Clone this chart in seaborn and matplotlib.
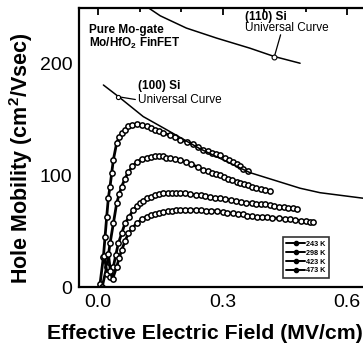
import numpy as np
import pandas as pd
import matplotlib
matplotlib.use("Agg")
import matplotlib.pyplot as plt
from matplotlib.lines import Line2D
import seaborn as sns

# ---- data ----
x_243 = [0.005, 0.013, 0.017, 0.021, 0.025, 0.029, 0.033, 0.037, 0.045, 0.051, 0.057, 0.065, 0.073,
         0.083, 0.093, 0.105, 0.117, 0.127, 0.137, 0.147, 0.157, 0.173, 0.185, 0.198, 0.215, 0.23,
         0.242, 0.254, 0.265, 0.275, 0.285, 0.295, 0.305, 0.315, 0.325, 0.334, 0.343, 0.35, 0.362]
y_243 = [3, 27, 45, 63, 80, 90, 102, 114, 129, 134, 138, 141, 144,
         145.5, 146, 145, 144, 142.5, 141, 139.5, 138, 136, 134, 132, 130, 128,
         125.5, 123, 121.5, 120, 119, 118, 116, 114, 112, 110, 108, 106, 104]

x_298 = [0.01, 0.021, 0.029, 0.037, 0.045, 0.051, 0.057, 0.065, 0.073, 0.083, 0.093, 0.105, 0.117,
         0.127, 0.137, 0.147, 0.157, 0.165, 0.173, 0.185, 0.198, 0.212, 0.225, 0.24, 0.254, 0.265,
         0.275, 0.285, 0.294, 0.304, 0.314, 0.324, 0.334, 0.343, 0.352, 0.361, 0.37, 0.381,
         0.392, 0.403, 0.414]
y_298 = [0, 18, 39, 57, 75, 83, 90, 97, 103, 108, 112, 114.5, 116,
         116.5, 117, 117, 117, 116, 115.5, 115, 114, 112, 110, 107.5, 105, 103.5,
         102.5, 101, 100, 98.5, 97, 96, 94.5, 93, 92, 91, 90, 89,
         88, 87, 86]

x_423 = [0.015, 0.022, 0.028, 0.037, 0.043, 0.049, 0.057, 0.065, 0.075, 0.085, 0.093, 0.1, 0.108,
         0.117, 0.127, 0.137, 0.147, 0.157, 0.168, 0.178, 0.188, 0.198, 0.21, 0.222, 0.235, 0.247,
         0.258, 0.27, 0.282, 0.294, 0.307, 0.32, 0.332, 0.345, 0.357, 0.37, 0.381, 0.392, 0.403,
         0.414, 0.425, 0.435, 0.447, 0.458, 0.469, 0.479]
y_423 = [28, 12, 9, 18, 29, 39, 48, 57, 63, 69, 72.5, 75, 77.5,
         79.5, 81, 82, 83, 84, 84.5, 84.5, 84.5, 84.5, 84, 83, 82.5, 82,
         81.5, 81, 80, 79.5, 78.5, 78, 77, 76.5, 75.5, 75, 74.5, 74, 74,
         73.5, 73, 72, 71.5, 71, 70.5, 70]

x_473 = [0.025, 0.030, 0.035, 0.045, 0.051, 0.057, 0.065, 0.073, 0.083, 0.093, 0.105, 0.117,
         0.127, 0.137, 0.147, 0.157, 0.168, 0.178, 0.188, 0.198, 0.21, 0.222, 0.235, 0.247, 0.26,
         0.273, 0.286, 0.30, 0.312, 0.325, 0.338, 0.35, 0.36, 0.37, 0.383, 0.395, 0.408, 0.42,
         0.435, 0.45, 0.462, 0.475, 0.488, 0.5, 0.51, 0.518]
y_473 = [30, 14, 7, 18, 26, 33, 41, 48, 53, 57, 60.5, 63,
         64.5, 65.5, 66.5, 67.5, 68, 68.5, 69, 69, 69, 69, 69, 69, 68.5,
         68.5, 68, 67, 66.5, 66, 65.5, 65, 64, 63.5, 63, 63, 62.5, 62,
         61.5, 61, 60.5, 60, 59.5, 59, 58.5, 58.5]

x_u100 = [0.013, 0.049, 0.109, 0.165, 0.245, 0.366, 0.487, 0.535, 0.64]
y_u100 = [181, 170.7, 152.7, 141, 124, 102.5, 88.5, 84.5, 79.5]

x_u110 = [0.11, 0.15, 0.213, 0.286, 0.366, 0.425, 0.487]
y_u110 = [253, 243, 232, 223, 214, 206.5, 200.5]

series_labels = ["243 K", "298 K", "423 K", "473 K"]
series_x = [x_243, x_298, x_423, x_473]
series_y = [y_243, y_298, y_423, y_473]

x_ticks = [0.0, 0.3, 0.6]
x_tick_labels = ["0.0", "0.3", "0.6"]
y_ticks = [0, 100, 200]
y_tick_labels = ["0", "100", "200"]

# ---- figure ----
sns.set_style("white")
plt.rcParams["font.family"] = ["Liberation Sans", "DejaVu Sans"]
plt.rcParams["mathtext.fontset"] = "custom"
plt.rcParams["mathtext.rm"] = "Liberation Sans"
plt.rcParams["mathtext.bf"] = "Liberation Sans:bold"
plt.rcParams["text.color"] = "black"
plt.rcParams["axes.labelcolor"] = "black"
plt.rcParams["xtick.color"] = "black"
plt.rcParams["ytick.color"] = "black"

fig = plt.figure(figsize=(3.63, 3.47), dpi=100)
xmin, xmax = -0.045, 0.65
left_px = 98 + xmin * 415
right_px = 98 + xmax * 415
ax = fig.add_axes([left_px / 363, (347 - 287) / 347, (right_px - left_px) / 363, (287 - 8) / 347])

for lab, xs, ys in zip(series_labels, series_x, series_y):
    df = pd.DataFrame({"E": xs, "mu": ys})
    sns.lineplot(data=df, x="E", y="mu", ax=ax, color="black", lw=2.0,
                 marker="o", ms=3.8, mfc="white", mec="black", mew=1.1,
                 sort=False, estimator=None, legend=False)

sns.lineplot(x=x_u100, y=y_u100, ax=ax, color="black", lw=1.1, estimator=None, sort=False, legend=False)
sns.lineplot(x=x_u110, y=y_u110, ax=ax, color="black", lw=1.1, estimator=None, sort=False, legend=False)

ax.set_xlim(xmin, xmax)
ax.set_ylim(0, 250)
ax.set_xticks(x_ticks)
ax.set_xticklabels(x_tick_labels)
ax.set_yticks(y_ticks)
ax.set_yticklabels(y_tick_labels)
ax.set_xticks(np.arange(0.1, 0.65, 0.1), minor=True)
ax.set_yticks(np.arange(25, 250, 25), minor=True)
ax.tick_params(which="both", direction="in", top=True, right=False, width=1.3, colors="black")
ax.tick_params(which="major", length=5, labelsize=14, pad=5)
ax.tick_params(which="minor", length=3)
for s in ["left", "bottom", "top", "right"]:
    ax.spines[s].set_linewidth(1.6)
    ax.spines[s].set_color("black")

ax.set_xlabel("Effective Electric Field (MV/cm)", fontsize=15.3, fontweight="bold", va="center")
ax.set_ylabel("Hole Mobility (cm$^{\\mathbf{2}}$/Vsec)", fontsize=15.5, fontweight="bold", va="center")
ax.xaxis.set_label_coords(0.436, -0.165)
ax.yaxis.set_label_coords(-0.202, 0.462)

# annotations
fs_a = 8.5
ax.text(-0.022, 230, "Pure Mo-gate", fontsize=fs_a, fontweight="bold", va="center", ha="left")
ax.text(-0.022, 218.5, "Mo/HfO$_{\\mathbf{2}}$ FinFET", fontsize=fs_a, fontweight="bold", va="center", ha="left")
ax.text(0.354, 242, "(110) Si", fontsize=fs_a, fontweight="bold", va="center", ha="left")
ax.text(0.354, 232, "Universal Curve", fontsize=fs_a, va="center", ha="left")
ax.text(0.096, 180, "(100) Si", fontsize=fs_a, fontweight="bold", va="center", ha="left")
ax.text(0.096, 167.5, "Universal Curve", fontsize=fs_a, va="center", ha="left")
ax.plot([0.049, 0.09], [170.5, 168], color="black", lw=0.9)
ax.plot([0.049], [170.5], marker="o", ms=3, mfc="white", mec="black", mew=0.8)
ax.plot([0.425, 0.44], [206.5, 226], color="black", lw=0.9)
ax.plot([0.425], [206.5], marker="o", ms=3.5, mfc="white", mec="black", mew=0.8)

handles = [Line2D([0], [0], color="black", lw=1.4, marker="o", ms=3, mfc="black", mec="black")
           for _ in series_labels]
leg = ax.legend(handles, series_labels, loc="lower left", bbox_to_anchor=(0.705, 0.032),
                fontsize=5.2, frameon=True, fancybox=False, handlelength=2.6,
                handletextpad=0.2, labelspacing=0.25, borderpad=0.5, borderaxespad=0)
leg.get_frame().set_edgecolor("black")
leg.get_frame().set_linewidth(1.2)
for t in leg.get_texts():
    t.set_fontweight("bold")

fig.savefig("out.png", dpi=100)
